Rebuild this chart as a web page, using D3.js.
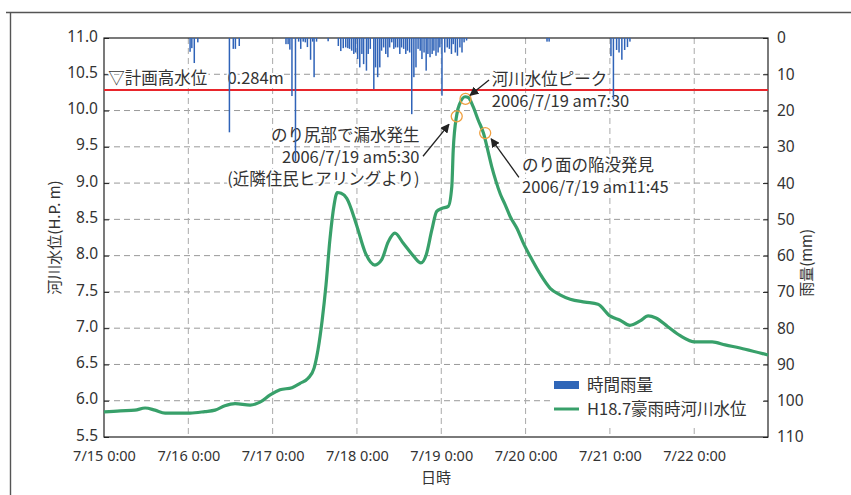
<!DOCTYPE html>
<html>
<head>
<meta charset="utf-8">
<script src="https://cdn.jsdelivr.net/npm/d3@7/dist/d3.min.js"></script>
<style>
body{margin:0;background:#fff}
svg text{font-family:"Noto Sans CJK JP","Noto Sans",sans-serif;fill:#333}
</style>
</head>
<body>
<div id="chart"></div>
<script>
var margin = {top:38, right:83, bottom:58, left:104}, width = 851 - margin.left - margin.right, height = 495 - margin.top - margin.bottom;

// axis ticks
var levelTicks = [5.5,6.0,6.5,7.0,7.5,8.0,8.5,9.0,9.5,10.0,10.5,11.0]
var rainTicks = [0,10,20,30,40,50,60,70,80,90,100,110]
var dayHours = [0,24,48,72,96,120,144,168]
var dayLabels = ["7/15 0:00","7/16 0:00","7/17 0:00","7/18 0:00","7/19 0:00","7/20 0:00","7/21 0:00","7/22 0:00"]

// river level (hours from 7/15 0:00, H.P. m)
var levelHours = [0,4.6,8.8,11.7,14.5,17.4,24.5,28.7,31.6,34.4,37.3,41.6,44.4,47.3,50.1,53.5,55.8,58.1,59.8,60.9,62.1,63.2,64.3,65.5,66.4,67.5,69.1,71.9,74.3,77.1,79.0,80.9,82.8,85.2,88.0,90.2,91.7,93.3,94.7,96.1,98.0,99.0,99.4,100.4,101.3,102.8,103.7,105.1,106.5,108.0,109.4,110.4,111.6,112.8,114.2,115.6,117.6,119.3,121.3,124.1,127.0,129.8,132.7,136.9,140.6,144.0,146.9,149.7,152.6,154.9,157.1,160.5,163.9,168.2,173.1,176.8,182.5,189.0]
var levelValues = [5.845,5.86,5.87,5.90,5.87,5.83,5.83,5.85,5.87,5.93,5.96,5.94,5.98,6.08,6.15,6.18,6.24,6.31,6.45,6.70,7.11,7.60,8.22,8.70,8.87,8.86,8.79,8.42,8.05,7.87,7.94,8.19,8.31,8.17,8.00,7.90,8.01,8.35,8.61,8.65,8.68,8.95,9.45,9.94,10.10,10.19,10.18,10.05,9.87,9.69,9.42,9.22,9.02,8.85,8.70,8.54,8.37,8.18,7.99,7.75,7.55,7.46,7.40,7.36,7.33,7.17,7.11,7.04,7.10,7.17,7.14,7.02,6.90,6.81,6.81,6.77,6.71,6.63]

// hourly rain (hours from 7/15 0:00, mm)
var rainHours = [24.5,25.0,25.7,26.7, 35.7,36.8,37.4,38.5,
  51.8,52.4,52.9,53.5,54.5,55.4,56.0,56.7,57.3,57.9,58.8,59.4,59.8,60.5,63.8,66.7,67.4,68.1,
  68.8,69.4,69.9,70.5,71.1,71.6,72.2,72.8,73.4,73.9,74.7,75.2,75.8,76.8,77.3,77.9,78.5,79.0,79.6,80.2,80.8,81.3,81.9,82.5,83.0,83.6,84.2,84.7,85.3,85.9,86.4,87.0,87.6,
  88.2,88.8,89.4,90.0,90.5,91.1,91.7,92.2,92.8,93.4,93.9,94.5,95.1,95.6,96.2,97.0,97.7,98.3,98.9,99.4,100.0,100.6,101.3,101.9,102.5,103.2,
  126.1,126.7, 144.3,145.0,145.9,146.6,147.4,148.2,149.0,149.7]
var rainValues = [3.8,2.8,6.9,1.2, 26,3,3,2.2,
  1.7,1.7,3.2,16,34,1,3,1,1.2,2.5,6,1,10.8,1,0.9,2.2,3.6,2.8,
  2.6,2.8,3.0,3.5,4.4,4.0,5.8,8.1,4.4,7.2,9.0,4.4,3.0,14.1,8.1,10.8,8.1,3.5,2.6,4.4,5.3,2.6,1.2,3.0,2.6,2.6,4.4,2.6,3.0,4.4,3.5,4.0,21,
  10.8,8.1,3.0,3.5,5.8,4.0,9.0,4.4,5.3,4.4,3.5,4.9,4.0,2.6,15.9,4.0,2.6,3.0,4.4,1.7,4.0,4.9,2.6,4.0,1.2,0.7,
  1,1, 5,17,3.3,4,6,3.3,2.5,1]

// planned high water level and observed events
var planLevel = 10.284
var eventHours = [100.4,102.9,108.5]
var eventLevels = [9.92,10.16,9.69]

var svg = d3.select("#chart").append("svg")
    .attr("width", width + margin.left + margin.right)
    .attr("height", height + margin.top + margin.bottom)

// outer frame (top and left edges)
svg.append("path").attr("d","M6,12.5H851M10.5,12.5V495").attr("fill","none").attr("stroke","#555").attr("stroke-width",1.4)

var g = svg.append("g").attr("transform","translate(" + margin.left + "," + margin.top + ")")

var x = d3.scaleLinear().domain([0,189]).range([0,width])
var yLevel = d3.scaleLinear().domain([5.5,11]).range([height,0])
var yRain = d3.scaleLinear().domain([0,110]).range([0,height])

//grid
g.append("g").selectAll("line").data(levelTicks.slice(1,-1)).enter().append("line")
    .attr("x1",0).attr("x2",width).attr("y1",function(d){return yLevel(d)}).attr("y2",function(d){return yLevel(d)})
    .attr("stroke","#999").attr("stroke-dasharray","6,4")
g.append("g").selectAll("line").data(dayHours.slice(1)).enter().append("line")
    .attr("y1",0).attr("y2",height).attr("x1",function(d){return x(d)}).attr("x2",function(d){return x(d)})
    .attr("stroke","#aaa").attr("stroke-dasharray","6,4")

//axes
var leftAxis = g.append("g").call(d3.axisLeft(yLevel).tickValues(levelTicks).tickFormat(d3.format(".1f")).tickSize(-5).tickPadding(6))
var rightAxis = g.append("g").attr("transform","translate(" + width + ",0)")
    .call(d3.axisRight(yRain).tickValues(rainTicks).tickSize(-5).tickPadding(9))
var bottomAxis = g.append("g").attr("transform","translate(0," + height + ")")
    .call(d3.axisBottom(x).tickValues(dayHours).tickFormat(function(d,i){return dayLabels[i]}).tickSize(0).tickPadding(14))
;[leftAxis,rightAxis,bottomAxis].forEach(function(a){
    a.select(".domain").remove()
    a.selectAll("text").style("font-size","15.5px").style("font-family","'Noto Sans',sans-serif").attr("fill","#333")
    a.selectAll("line").attr("stroke","#222")
})
leftAxis.selectAll("text").attr("dy","0.2em")
bottomAxis.selectAll("text").style("font-size","14.5px")
g.append("rect").attr("width",width).attr("height",height).attr("fill","none").attr("stroke","#222").attr("stroke-width",1.2)

// axis titles
g.append("text").attr("transform","translate(-44," + (height/2) + ") rotate(-90)").attr("text-anchor","middle").style("font-size","15px").text("河川水位(H.P. m)")
g.append("text").attr("transform","translate(" + (width+44) + "," + (yRain(62)) + ") rotate(-90)").attr("text-anchor","middle").style("font-size","15px").text("雨量(mm)")
g.append("text").attr("x",width/2).attr("y",height+46).attr("text-anchor","middle").style("font-size","15px").text("日時")

// annotation texts
function label(hx, lv, lines, anchor){
    var t = g.append("text").attr("text-anchor",anchor).style("font-size","16.5px")
        .attr("stroke","#fff").attr("stroke-width",4).attr("paint-order","stroke")
    lines.forEach(function(s,i){
        t.append("tspan").attr("x",x(hx)).attr("y",yLevel(lv) + i*22).text(s)
    })
}
label(1.2, 10.37, ["▽計画高水位　 0.284m"], "start")
label(110.4, 10.35, ["河川水位ピーク","2006/7/19 am7:30"], "start")
label(89.8, 9.58, ["のり尻部で漏水発生","2006/7/19 am5:30","(近隣住民ヒアリングより)"], "end")
label(119.0, 9.16, ["のり面の陥没発見","2006/7/19 am11:45"], "start")

// legend
var legend = g.append("g").attr("transform","translate(" + (width-217) + "," + (height-70) + ")")
legend.append("rect").attr("width",212).attr("height",58).attr("fill","#fff")
legend.append("rect").attr("x",3).attr("y",14).attr("width",25).attr("height",8).attr("fill","#2f66b8")
legend.append("line").attr("x1",3).attr("x2",28).attr("y1",42).attr("y2",42).attr("stroke","#38a06a").attr("stroke-width",3)
legend.append("text").attr("x",36).attr("y",24).style("font-size","16.5px").text("時間雨量")
legend.append("text").attr("x",36).attr("y",48).style("font-size","16.5px").text("H18.7豪雨時河川水位")

// planned high water level
g.append("line").attr("x1",0).attr("x2",width).attr("y1",yLevel(planLevel)).attr("y2",yLevel(planLevel))
    .attr("stroke","#e8252b").attr("stroke-width",2)

// rain bars
g.append("g").selectAll("rect").data(rainHours).enter().append("rect")
    .attr("x",function(d){return x(d) - 0.75})
    .attr("y",yRain(0))
    .attr("width",1.5)
    .attr("height",function(d,i){return yRain(rainValues[i]) - yRain(0)})
    .attr("fill","#2f63b8")

// river level line
var line = d3.line().x(function(d){return x(d)}).y(function(d,i){return yLevel(levelValues[i])}).curve(d3.curveMonotoneX)
g.append("path").datum(levelHours).attr("d",line).attr("fill","none").attr("stroke","#38a06a").attr("stroke-width",3.2)

// event circles
g.append("g").selectAll("circle").data(eventHours).enter().append("circle")
    .attr("cx",function(d){return x(d)}).attr("cy",function(d,i){return yLevel(eventLevels[i])})
    .attr("r",5.5).attr("fill","none").attr("stroke","#f0a040").attr("stroke-width",1.3)

// arrows
svg.append("defs").append("marker").attr("id","arr").attr("viewBox","0 0 10 10").attr("refX",9).attr("refY",5)
    .attr("markerWidth",7).attr("markerHeight",7).attr("orient","auto-start-reverse")
    .append("path").attr("d","M0,0L10,5L0,10z").attr("fill","#222")
var arrowFrom = [[109.6,10.42],[90.8,9.37],[118.1,9.08]]
var arrowTo = [[104.2,10.21],[98.2,9.81],[110.2,9.61]]
g.append("g").selectAll("line").data(arrowFrom).enter().append("line")
    .attr("x1",function(d){return x(d[0])}).attr("y1",function(d){return yLevel(d[1])})
    .attr("x2",function(d,i){return x(arrowTo[i][0])}).attr("y2",function(d,i){return yLevel(arrowTo[i][1])})
    .attr("stroke","#222").attr("stroke-width",1.3).attr("marker-end","url(#arr)")
</script>
</body>
</html>
